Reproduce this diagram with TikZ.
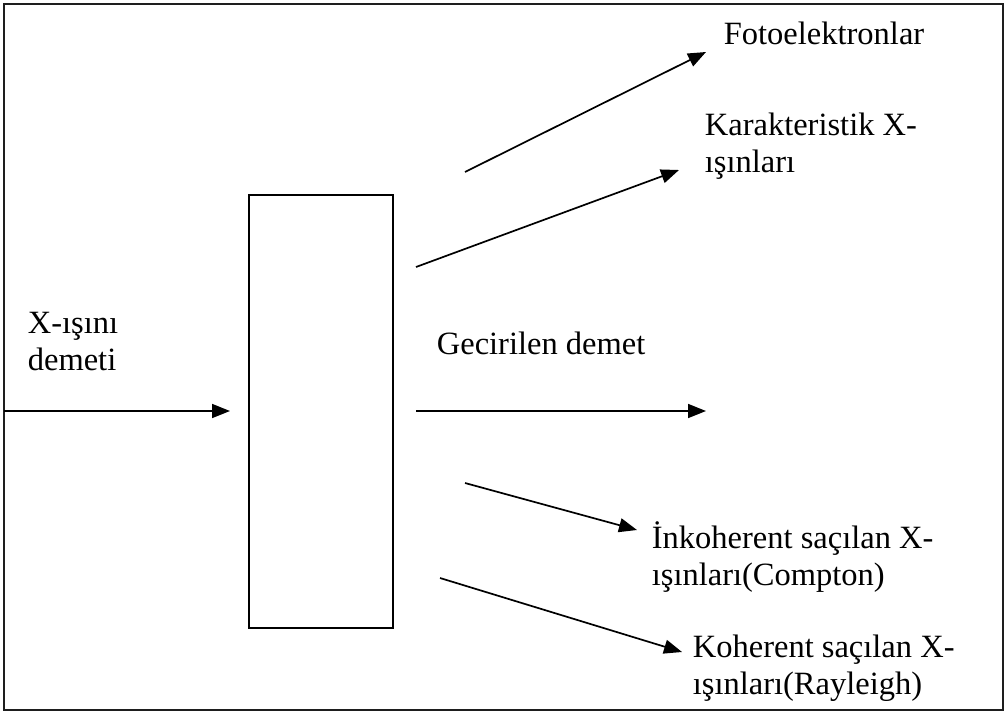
\documentclass[tikz,border=0pt]{standalone}
\usepackage{fontspec}
\setmainfont{Liberation Serif}
\definecolor{FrameGray}{RGB}{30, 30, 30}
\usetikzlibrary{arrows.meta}

\begin{document}
\begin{tikzpicture}[x=1pt, y=-1pt, line width=1.7pt,
  every node/.style={inner sep=0pt, align=left, font=\fontsize{32.5}{37}\selectfont},
  ray/.style={-{Triangle[length=18pt, width=14pt]}}]
\useasboundingbox (0,0) rectangle (1008,715);
\draw[line width=2.8pt, FrameGray] (4,4) rectangle (1003,710);

\node[draw, minimum width=144pt, minimum height=433pt] (sample) at (321,411.5) {};

\node[anchor=west] (inlbl) at (27,342) {X-ışını\\demeti};
\node[anchor=base west] (fotolbl) at (723,44) {Fotoelektronlar};
\node[anchor=west] (karlbl) at (704,146) {Karakteristik X-\\ışınları};
\node[anchor=base west] (geclbl) at (436,354) {Gecirilen demet};
\node[anchor=west] (inklbl) at (651,557) {İnkoherent saçılan X-\\ışınları(Compton)};
\node[anchor=west] (kohlbl) at (692,668) {Koherent saçılan X-\\ışınları(Rayleigh)};

\coordinate (in1) at (4,411);     \coordinate (in2) at (230,411);
\coordinate (tr1) at (416,411);   \coordinate (tr2) at (706,411);
\coordinate (fo1) at (465,172);   \coordinate (fo2) at (706,52);
\coordinate (ka1) at (416,267);   \coordinate (ka2) at (679,170);
\coordinate (ik1) at (465,483);   \coordinate (ik2) at (637,530);
\coordinate (ko1) at (440,578);   \coordinate (ko2) at (682,652);

\draw[ray] (in1) -- (in2);
\draw[ray] (tr1) -- (tr2);
\draw[ray] (fo1) -- (fo2);
\draw[ray] (ka1) -- (ka2);
\draw[ray] (ik1) -- (ik2);
\draw[ray] (ko1) -- (ko2);
\end{tikzpicture}
\end{document}
